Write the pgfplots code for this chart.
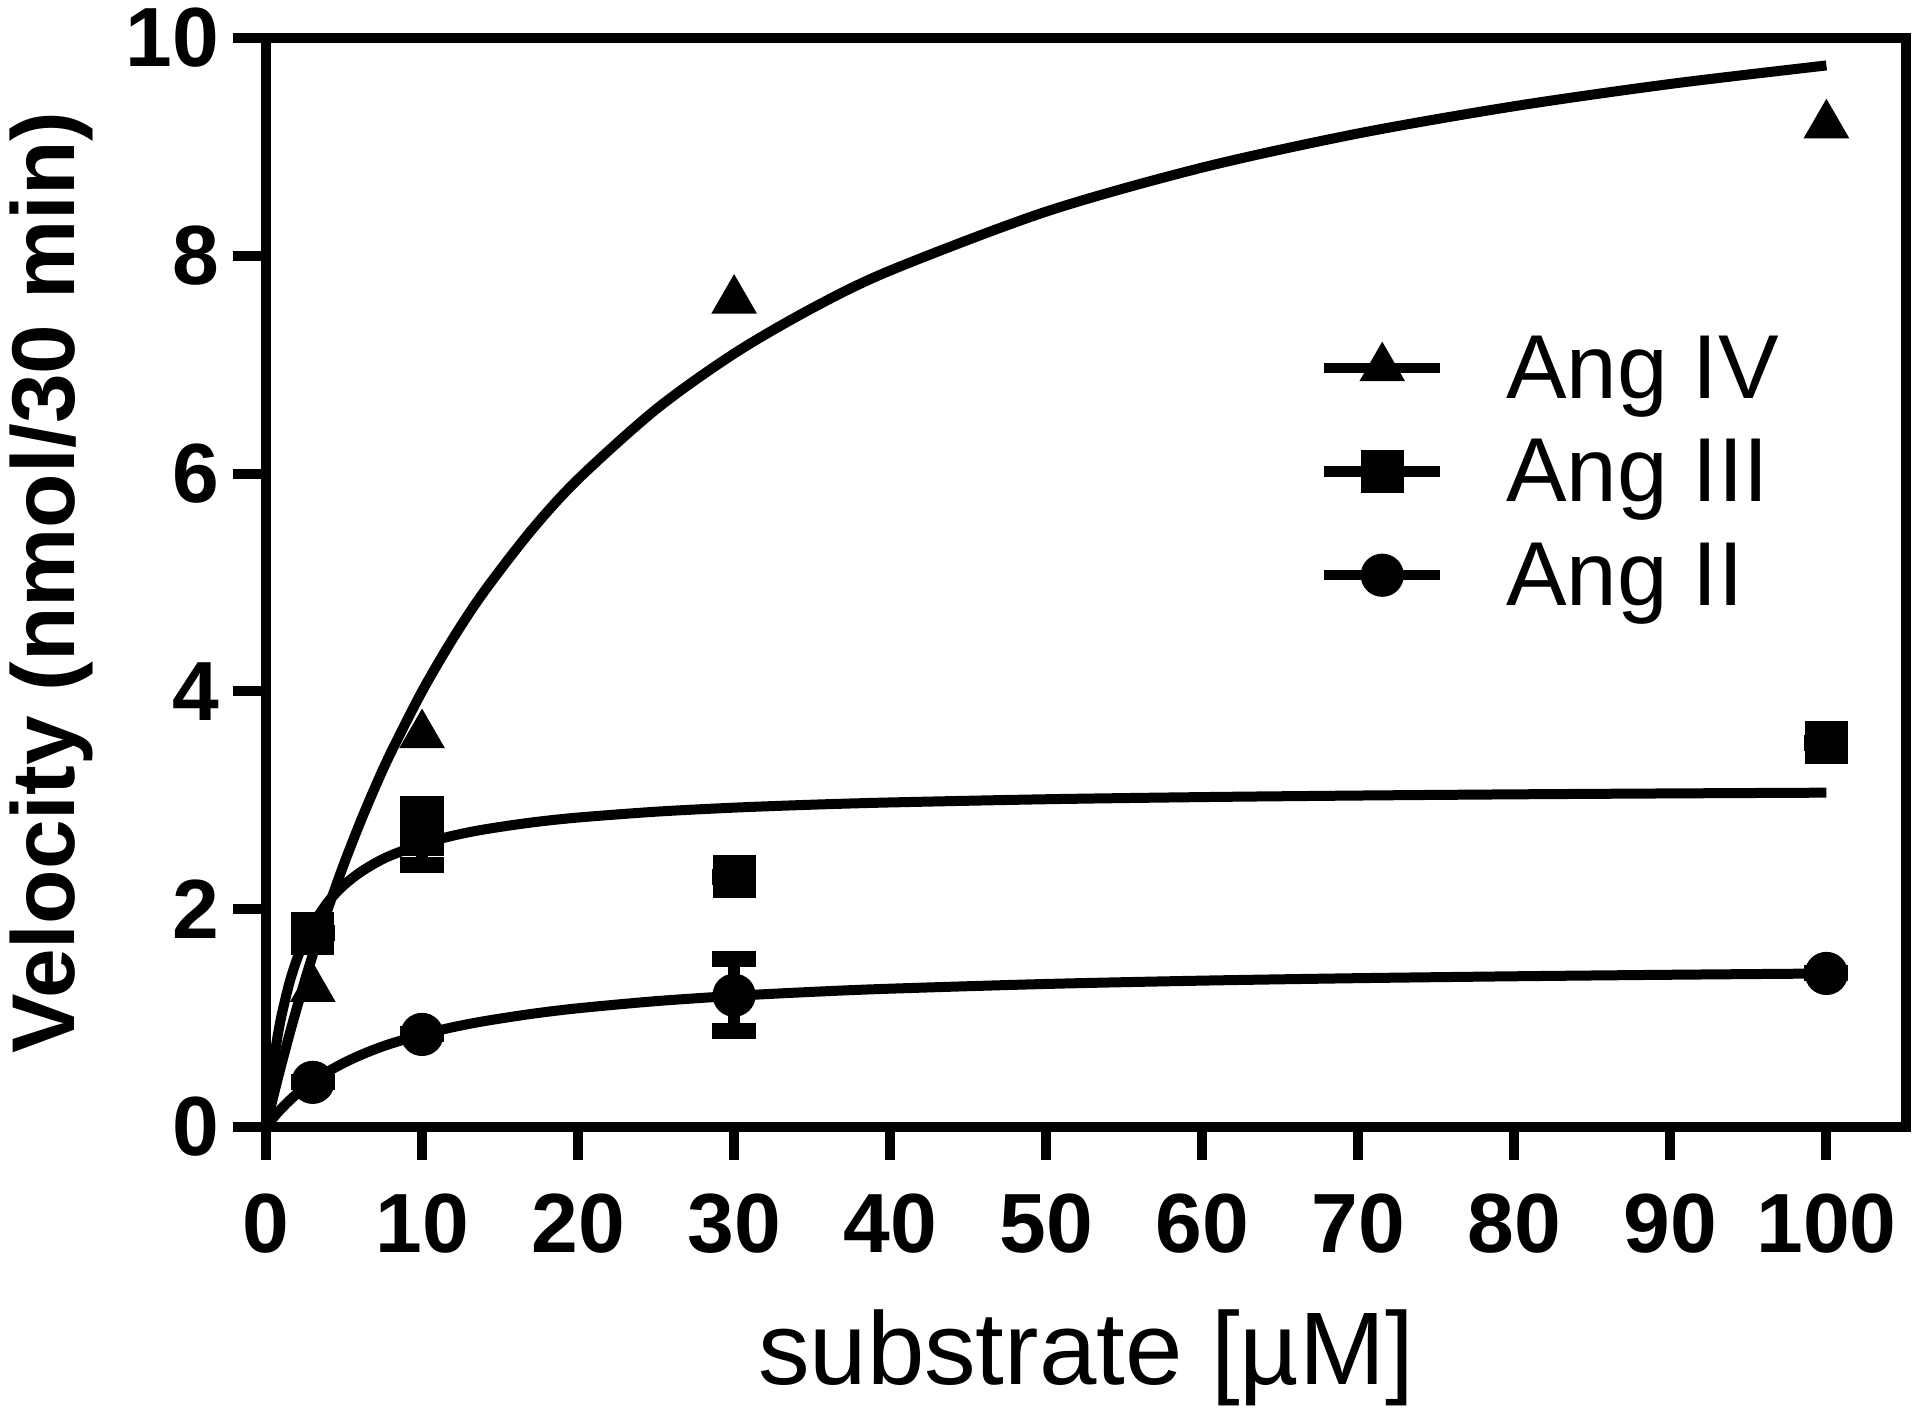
\documentclass[border=0pt]{standalone}
\usepackage{fontspec}
\setmainfont{Liberation Sans}
\usepackage{pgfplots}
\pgfplotsset{compat=1.18}

\begin{document}
\begin{tikzpicture}
\begin{axis}[
  name=ax,
  scale only axis,
  width=410pt, height=272.25pt,
  xmin=0, xmax=105.1, ymin=0, ymax=10,
  xtick={0,10,...,100}, ytick={0,2,...,10},
  axis line style={line width=2.5pt, line cap=rect},
  tick align=outside, tick pos=left,
  major tick length=8.25pt,
  major tick style={line width=2.5pt, black},
  minor tick num=0,
  /pgf/number format/assume math mode=true,
  ticklabel style={font=\fontsize{21}{21}\selectfont\bfseries},
  xticklabel style={inner sep=0pt, anchor=north, yshift=-8.25pt},
  yticklabel style={inner sep=0pt, anchor=east, xshift=-3.25pt},
  xlabel={substrate [µM]},
  xlabel style={font=\fontsize{25.8}{25.8}\selectfont, inner sep=0pt, anchor=north, at={(axis description cs:0.5,-0.1671)}},
  ylabel={Velocity (nmol/30 min)},
  ylabel style={font=\fontsize{22.3}{22.3}\selectfont\bfseries, inner sep=0pt, anchor=north, at={(axis description cs:-0.1567,0.5)}},
  legend cell align=left,
  legend style={draw=none, fill=none, inner sep=0pt, outer sep=0pt,
    at={(axis description cs:0.6421,0.7445)}, anchor=north west,
    font=\fontsize{22.7}{22.7}\selectfont,
    nodes={inner sep=0pt, text height=20.45pt, text depth=5.45pt},
    row sep=0pt, column sep=0pt},
  legend image code/.code={
    \path[draw=none, fill=none] (0pt,0pt) rectangle (45.5pt,0.1pt);
    \draw[line width=2.6pt, mark=none] (0pt,0pt) -- (29pt,0pt);
    \draw[only marks, #1] plot coordinates {(14.5pt,0pt)};
  },
]
% fitted curves
\addplot[black, line width=2.5pt, smooth, forget plot] coordinates {
(0,0) (0.25,0.1506) (0.5,0.2974) (0.75,0.4405) (1,0.58) (1.5,0.8488) (2,1.1048) (2.5,1.3488) (3,1.5818) (4,2.0174) (5,2.4167) (6,2.784) (7,3.1231) (8,3.437) (10,4.0) (12,4.4903) (14,4.9212) (17,5.4778) (20,5.9487) (25,6.5909) (30,7.102) (35,7.5185) (40,7.8644) (50,8.4058) (60,8.8101) (70,9.1236) (80,9.3737) (90,9.578) (100,9.7479)};
\addplot[black, line width=2.5pt, smooth, forget plot] coordinates {
(0,0) (0.25,0.3405) (0.5,0.6143) (0.75,0.8392) (1,1.0272) (1.5,1.3238) (2,1.5472) (2.5,1.7214) (3,1.8612) (4,2.0714) (5,2.2220) (6,2.3351) (7,2.4233) (8,2.4939) (10,2.6000) (12,2.6757) (14,2.7328) (17,2.7959) (20,2.8417) (25,2.8955) (30,2.9326) (35,2.9597) (40,2.9802) (50,3.0097) (60,3.0295) (70,3.0437) (80,3.0547) (90,3.0632) (100,3.0701)};
\addplot[black, line width=2.5pt, smooth, forget plot] coordinates {
(0,0) (0.25,0.0467) (0.5,0.0905) (0.75,0.1319) (1,0.1709) (1.5,0.2427) (2,0.3073) (2.5,0.3656) (3,0.4186) (4,0.5113) (5,0.5895) (6,0.6565) (7,0.7146) (8,0.7653) (10,0.8497) (12,0.9172) (14,0.9723) (17,1.0384) (20,1.0903) (25,1.1558) (30,1.2040) (35,1.2409) (40,1.2701) (50,1.3135) (60,1.3441) (70,1.3667) (80,1.3840) (90,1.3980) (100,1.4097)};
% data
\addplot[black, only marks, mark=triangle*, mark size=6.2pt, mark options={fill=black, line width=0.4pt}] coordinates {
(3,1.27) (10,3.60) (30,7.59) (100,9.20)};
\addlegendentry{Ang IV}
\addplot[black, only marks, mark=square*, mark size=5.2pt, mark options={fill=black, line width=0.4pt},
  error bars/.cd, y dir=both, y explicit,
  error bar style={line width=2.9pt},
  error mark options={rotate=90, mark size=5.5pt, line width=4pt}] coordinates {
(3,1.78) +- (0,0) (10,2.69) +- (0,0.28) (30,2.30) +- (0,0) (100,3.53) +- (0,0)};
\addlegendentry{Ang III}
\addplot[black, only marks, mark=*, mark size=5.2pt, mark options={fill=black, line width=0.4pt},
  error bars/.cd, y dir=both, y explicit,
  error bar style={line width=2.9pt},
  error mark options={rotate=90, mark size=5.5pt, line width=4pt}] coordinates {
(3,0.41) +- (0,0) (10,0.85) +- (0,0) (30,1.21) +- (0,0.33) (100,1.41) +- (0,0)};
\addlegendentry{Ang II}
\end{axis}
\path (ax.south west) ++(-66.5pt,-72pt) coordinate (BBA);
\path (ax.north east) ++(3.5pt,9.5pt) coordinate (BBB);
\pgfresetboundingbox
\useasboundingbox (BBA) rectangle (BBB);
\end{tikzpicture}
\end{document}
